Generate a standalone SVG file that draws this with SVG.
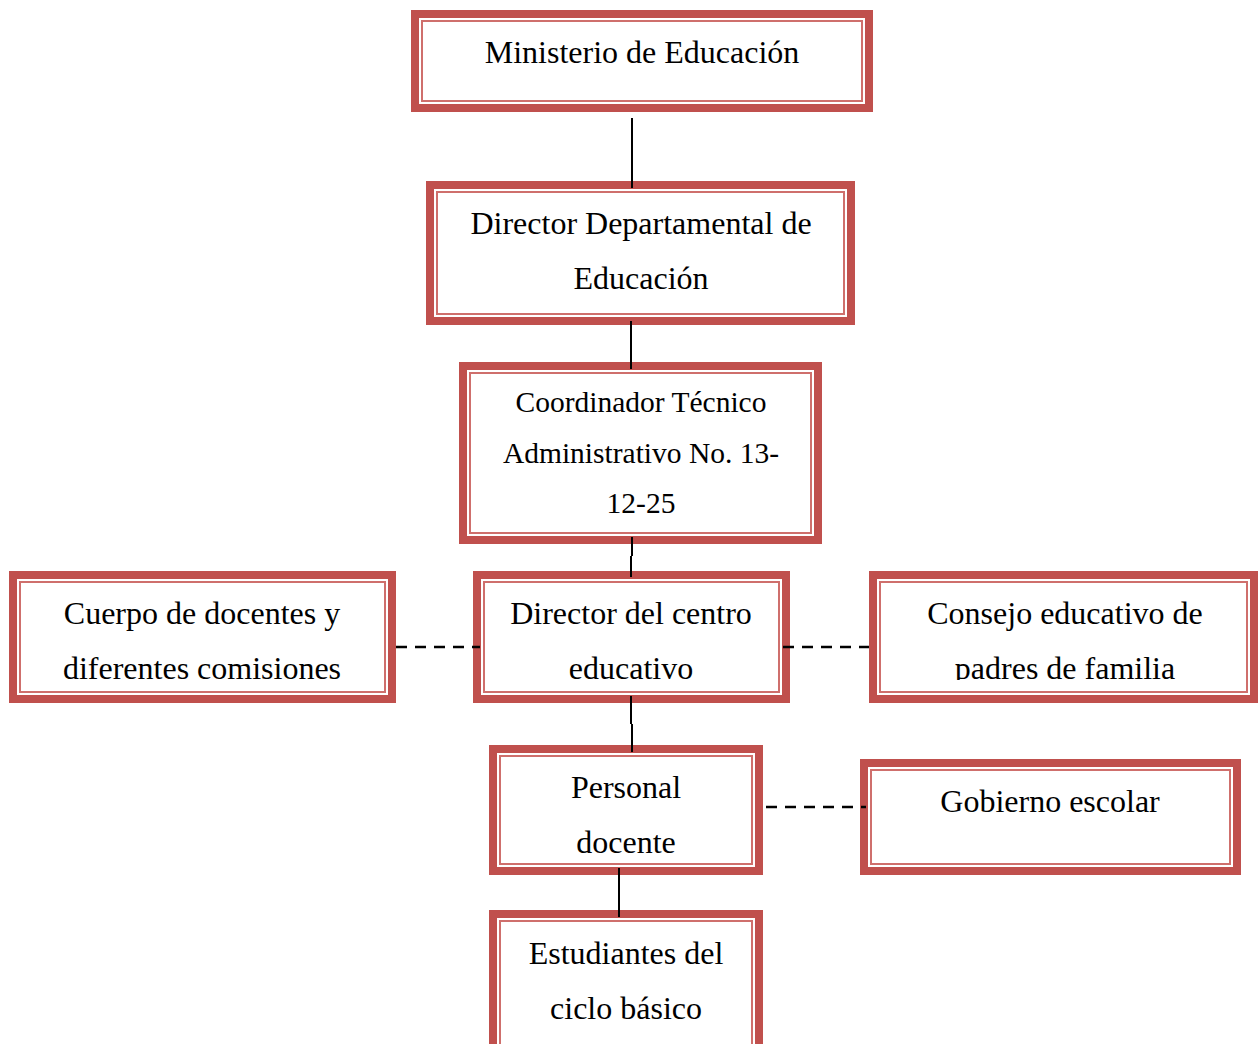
<svg xmlns="http://www.w3.org/2000/svg" width="1258" height="1044" viewBox="0 0 1258 1044">
<style>
.o{fill:#fff;stroke:#C0504D;stroke-width:8}
.i{fill:none;stroke:#cf6f6c;stroke-width:2}
.t{font-family:"Liberation Serif","Times New Roman",serif;font-size:32px;fill:#000;text-anchor:middle}
.s{font-size:29.5px}
.c{stroke:#000;stroke-width:2;fill:none}
.d{stroke:#000;stroke-width:2.5;fill:none;stroke-dasharray:11 8}
</style>
<defs>
<clipPath id="cp6"><rect x="880" y="582" width="367" height="98"/></clipPath>
</defs>
<rect width="1258" height="1044" fill="#fff"/>
<g id="n1">
<rect class="o" x="415" y="14" width="454" height="94"/>
<rect class="i" x="422" y="21" width="440" height="80"/>
<text class="t" x="642" y="63">Ministerio de Educación</text>
</g>
<g id="n2">
<rect class="o" x="430" y="185" width="421" height="136"/>
<rect class="i" x="437" y="192" width="407" height="122"/>
<text class="t" x="641" y="234">Director Departamental de</text>
<text class="t" x="641" y="289">Educación</text>
</g>
<g id="n3">
<rect class="o" x="463" y="366" width="355" height="174"/>
<rect class="i" x="470" y="373" width="341" height="160"/>
<text class="t s" x="641" y="412">Coordinador Técnico</text>
<text class="t s" x="641" y="463">Administrativo No. 13-</text>
<text class="t s" x="641" y="513">12-25</text>
</g>
<g id="n4">
<rect class="o" x="477" y="575" width="309" height="124"/>
<rect class="i" x="484" y="582" width="295" height="110"/>
<text class="t" x="631" y="624">Director del centro</text>
<text class="t" x="631" y="679">educativo</text>
</g>
<g id="n5">
<rect class="o" x="13" y="575" width="379" height="124"/>
<rect class="i" x="20" y="582" width="365" height="110"/>
<text class="t" x="202" y="624">Cuerpo de docentes y</text>
<text class="t" x="202" y="679">diferentes comisiones</text>
</g>
<g id="n6">
<rect class="o" x="873" y="575" width="381" height="124"/>
<rect class="i" x="880" y="582" width="367" height="110"/>
<text class="t" x="1065" y="624">Consejo educativo de</text>
<text class="t" x="1065" y="679" clip-path="url(#cp6)">padres de familia</text>
</g>
<g id="n7">
<rect class="o" x="493" y="749" width="266" height="122"/>
<rect class="i" x="500" y="756" width="252" height="108"/>
<text class="t" x="626" y="798">Personal</text>
<text class="t" x="626" y="853">docente</text>
</g>
<g id="n8">
<rect class="o" x="864" y="763" width="373" height="108"/>
<rect class="i" x="871" y="770" width="359" height="94"/>
<text class="t" x="1050" y="812">Gobierno escolar</text>
</g>
<g id="n9">
<rect class="o" x="493" y="914" width="266" height="140"/>
<rect class="i" x="500" y="921" width="252" height="126"/>
<text class="t" x="626" y="964">Estudiantes del</text>
<text class="t" x="626" y="1019">ciclo básico</text>
</g>
<g id="connectors">
<path class="c" d="M632 118V188"/>
<path class="c" d="M631 321V369"/>
<path class="c" d="M632 537V556M631 556V577"/>
<path class="c" d="M631 696V724M632 724V752"/>
<path class="c" d="M619 868V917"/>
<path class="d" d="M396 647H480"/>
<path class="d" d="M783 647H869"/>
<path class="d" d="M766 807H866"/>
</g>
</svg>
